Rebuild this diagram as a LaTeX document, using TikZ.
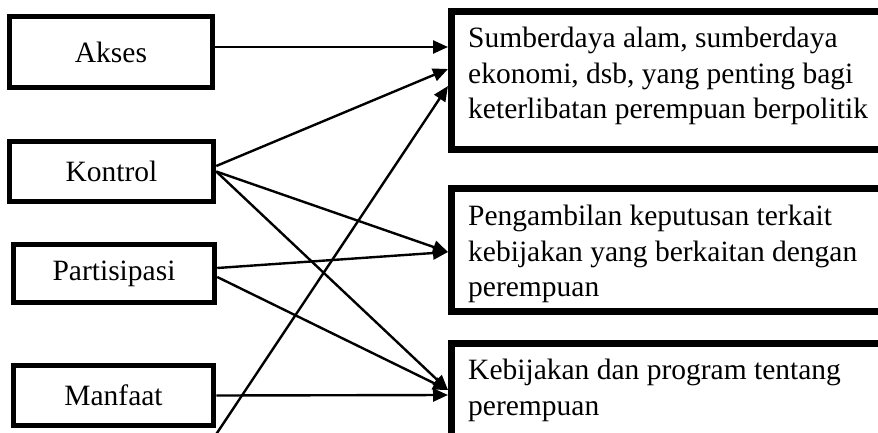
\documentclass[tikz,border=0pt]{standalone}
\usepackage{fontspec}
\setmainfont{Liberation Serif}
\usetikzlibrary{arrows.meta,calc}

\begin{document}
\begin{tikzpicture}[x=1pt, y=-1pt,
        lbox/.style = {rectangle, draw=black, line width=5.5pt, fill=white, align=center, inner sep=0pt, font=\fontsize{29.5}{36}\selectfont},
        rbox/.style = {rectangle, draw=black, line width=7pt, fill=white, anchor=north west, inner sep=0pt, minimum width=560pt},
        rtxt/.style = {anchor=north west, align=left, inner sep=0pt, font=\fontsize{29.5}{35.5}\selectfont},
        arr/.style = {-{Triangle[length=15pt, width=13pt]}, line width=2.4pt, draw=black}
    ]
        \clip (0,0) rectangle (878,433);
        \fill[white] (0,0) rectangle (878,433);

        % Left: the four aspects
        \node[lbox, minimum width=203pt, minimum height=71pt] (akses) at (111, 52) {Akses};
        \node[lbox, minimum width=204pt, minimum height=60pt] (kontrol) at (111.5, 171.5) {Kontrol};
        \node[lbox, minimum width=201pt, minimum height=58pt] (partisipasi) at (114, 273.5) {Partisipasi};
        \node[lbox, minimum width=200pt, minimum height=60pt] (manfaat) at (113.5, 395.5) {Manfaat};

        % Right: the three targets (cut off at the page edge)
        \node[rbox, minimum height=138pt] (sumber) at (448, 8) {};
        \node[rbox, minimum height=123pt] (ambil) at (448, 185) {};
        \node[rbox, minimum height=133pt] (kebijakan) at (448, 340) {};

        \node[rtxt] (sumbertxt) at ($(sumber.north west)+(20,19)$) {Sumberdaya alam, sumberdaya\\ekonomi, dsb, yang penting bagi\\keterlibatan perempuan berpolitik};
        \node[rtxt] (ambiltxt) at ($(ambil.north west)+(20,20)$) {Pengambilan keputusan terkait\\kebijakan yang berkaitan dengan\\perempuan};
        \node[rtxt] (kebijakantxt) at ($(kebijakan.north west)+(20,19)$) {Kebijakan dan program tentang\\perempuan};

        % free end below the page
        \coordinate (bawah) at (215, 436);

        % Connections
        \draw[arr] ([yshift=5pt]akses.east) -- ($(sumber.north west)+(0,39)$);
        \draw[arr] ([yshift=5.5pt]kontrol.east) -- ($(sumber.north west)+(0,61)$);
        \draw[arr] (bawah) -- ($(sumber.north west)+(0,78)$);
        \draw[arr] (kontrol.east) -- ($(ambil.north west)+(0,67)$);
        \draw[arr] ([yshift=5.5pt]partisipasi.east) -- ($(ambil.north west)+(0,67)$);
        \draw[arr] (kontrol.east) -- ($(kebijakan.north west)+(0,50)$);
        \draw[arr] ([yshift=-3.5pt]partisipasi.east) -- ($(kebijakan.north west)+(0,50)$);
        \draw[arr] (manfaat.east) -- ($(kebijakan.north west)+(0,55)$);

    \end{tikzpicture}
\end{document}
